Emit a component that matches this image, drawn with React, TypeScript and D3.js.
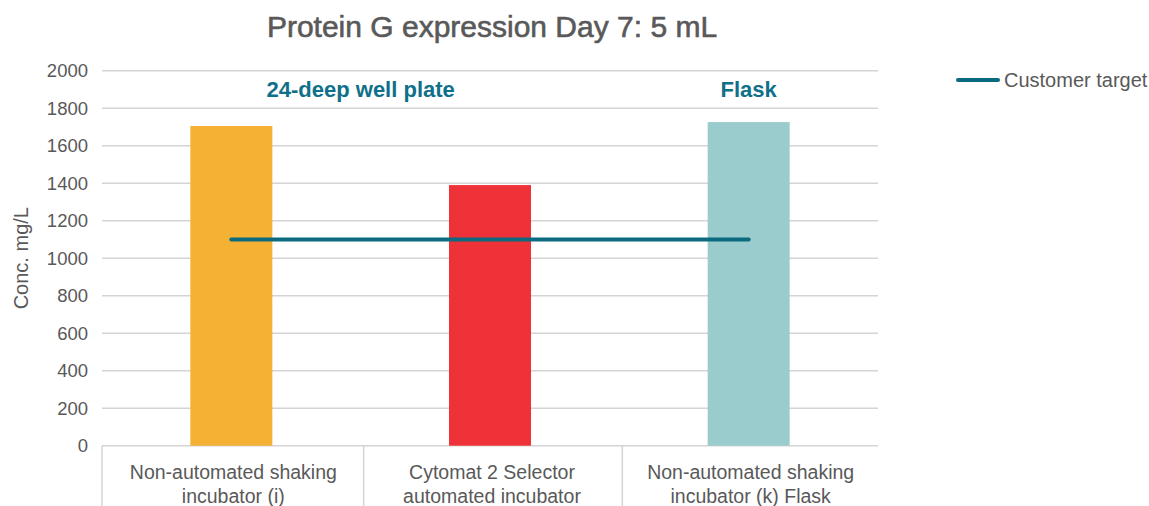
import React, { useRef, useEffect } from "react";
import * as d3 from "d3";

const categories = [
  ["Non-automated shaking", "incubator (i)"],
  ["Cytomat 2 Selector", "automated incubator"],
  ["Non-automated shaking", "incubator (k) Flask"],
];
const values = [1705, 1390, 1726];
const barColors = ["#F5B133", "#EF3237", "#9BCCCD"];
const targetValue = 1100;
const yTicks = [0, 200, 400, 600, 800, 1000, 1200, 1400, 1600, 1800, 2000];
const groupLabels = [
  { text: "24-deep well plate", at: 1, edge: true },
  { text: "Flask", at: 2, edge: false },
];

const TEXT = "#595959";
const TEAL = "#0B6A7F";
const GRID = "#D4D4D4";
const FONT = "'Liberation Sans', Arial, Helvetica, sans-serif";

const App = () => {
  const chartRef = useRef(null);

  useEffect(() => {
    const W = 1149;
    const H = 506;
    const margin = { top: 70.7, right: 271, bottom: 60.3, left: 102 };
    const width = W - margin.left - margin.right;
    const height = H - margin.top - margin.bottom;

    d3.select(chartRef.current).selectAll("svg").remove();

    const root = d3
      .select(chartRef.current)
      .append("svg")
      .attr("width", W)
      .attr("height", H)
      .style("position", "absolute")
      .style("left", 0)
      .style("top", 0)
      .style("font-family", FONT);

    // title (slight stroke to mimic a medium weight)
    root
      .append("text")
      .attr("x", 492)
      .attr("y", 37)
      .attr("text-anchor", "middle")
      .style("font-size", "30px")
      .style("fill", TEXT)
      .style("stroke", TEXT)
      .style("stroke-width", 0.6)
      .text("Protein G expression Day 7: 5 mL");

    const svg = root
      .append("g")
      .attr("transform", `translate(${margin.left}, ${margin.top})`);

    const x = d3
      .scaleBand()
      .domain(categories.map((_, i) => String(i)))
      .range([0, width])
      .padding(0);

    const y = d3.scaleLinear().domain([0, 2000]).range([height, 0]);

    // gridlines
    svg
      .selectAll(".grid")
      .data(yTicks)
      .enter()
      .append("line")
      .attr("x1", 0)
      .attr("x2", width)
      .attr("y1", (d) => y(d))
      .attr("y2", (d) => y(d))
      .style("stroke", GRID)
      .style("stroke-width", 1.5);

    // y tick labels
    svg
      .selectAll(".ytick")
      .data(yTicks)
      .enter()
      .append("text")
      .attr("x", -14)
      .attr("y", (d) => y(d))
      .attr("dy", "0.35em")
      .attr("text-anchor", "end")
      .style("font-size", "18.5px")
      .style("fill", TEXT)
      .text((d) => d);

    // y axis title
    svg
      .append("text")
      .attr("transform", `translate(${-74}, ${height / 2}) rotate(-90)`)
      .attr("text-anchor", "middle")
      .style("font-size", "20px")
      .style("fill", TEXT)
      .text("Conc. mg/L");

    // bars
    const barW = x.bandwidth() * 0.317;
    svg
      .selectAll(".bar")
      .data(values)
      .enter()
      .append("rect")
      .attr("x", (_, i) => x(String(i)) + x.bandwidth() / 2 - barW / 2)
      .attr("width", barW)
      .attr("y", (d) => y(d))
      .attr("height", (d) => height - y(d))
      .style("fill", (_, i) => barColors[i]);

    // category separators below axis
    const seps = [0, 1, 2].map((i) => x(String(i)));
    svg
      .selectAll(".sep")
      .data(seps)
      .enter()
      .append("line")
      .attr("x1", (d) => d + (d > 0 ? 3 : 0))
      .attr("x2", (d) => d + (d > 0 ? 3 : 0))
      .attr("y1", height)
      .attr("y2", height + 62)
      .style("stroke", GRID)
      .style("stroke-width", 1.5);

    // category labels
    const cat = svg
      .selectAll(".cat")
      .data(categories)
      .enter()
      .append("text")
      .attr("text-anchor", "middle")
      .style("font-size", "19.5px")
      .style("fill", TEXT);
    cat
      .selectAll("tspan")
      .data((d, i) => d.map((t) => ({ t, i })))
      .enter()
      .append("tspan")
      .attr("x", (d) => x(String(d.i)) + x.bandwidth() / 2 + 2)
      .attr("y", (_, j) => height + 33 + j * 24)
      .text((d) => d.t);

    // customer target line
    const c0 = x("0") + x.bandwidth() / 2;
    const c2 = x(String(categories.length - 1)) + x.bandwidth() / 2;
    svg
      .append("line")
      .attr("x1", c0)
      .attr("x2", c2)
      .attr("y1", y(targetValue))
      .attr("y2", y(targetValue))
      .style("stroke", TEAL)
      .style("stroke-width", 4)
      .style("stroke-linecap", "round");

    // group labels
    svg
      .selectAll(".group")
      .data(groupLabels)
      .enter()
      .append("text")
      .attr("x", (d) =>
        d.edge ? x(String(d.at)) : x(String(d.at)) + x.bandwidth() / 2,
      )
      .attr("y", y(1900))
      .attr("dy", "0.35em")
      .attr("text-anchor", "middle")
      .style("font-size", "22px")
      .style("font-weight", "bold")
      .style("fill", "#10708A")
      .text((d) => d.text);

    // legend
    const lg = root.append("g").attr("transform", "translate(958, 80)");
    lg.append("line")
      .attr("x1", 0)
      .attr("x2", 40)
      .style("stroke", TEAL)
      .style("stroke-width", 4)
      .style("stroke-linecap", "round");
    lg.append("text")
      .attr("x", 46)
      .attr("dy", "0.35em")
      .style("font-size", "20px")
      .style("fill", TEXT)
      .text("Customer target");
  }, []);

  return <div ref={chartRef}></div>;
};

export default App;
